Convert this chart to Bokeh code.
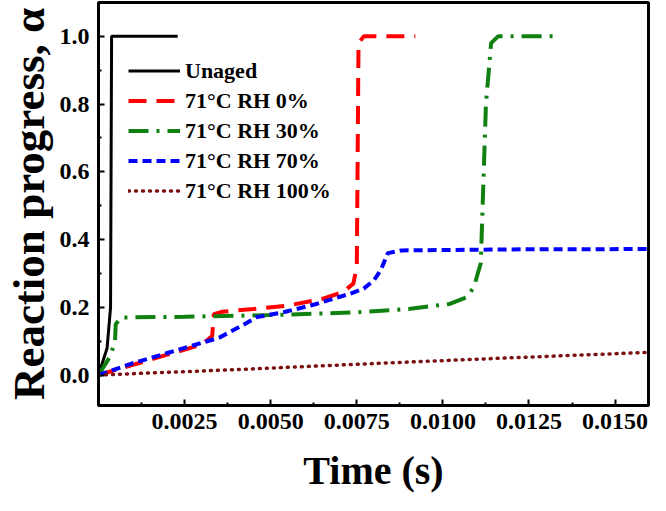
from bokeh.plotting import figure
from bokeh.models import FixedTicker, Range1d, Legend, LegendItem
from bokeh.embed import file_html
from bokeh.resources import INLINE

# ---- data ----
t_unaged = [0.0, 0.00025, 0.00035, 0.00038, 0.0023]
a_unaged = [0.0, 0.08, 0.20, 1.0, 1.0]

t_rh0 = [0.0, 0.0010, 0.0020, 0.0030, 0.0033, 0.00335, 0.0036, 0.0045, 0.0055, 0.0065, 0.0071, 0.0074, 0.0075, 0.00755, 0.0077, 0.0092]
a_rh0 = [0.0, 0.030, 0.060, 0.090, 0.115, 0.180, 0.187, 0.195, 0.205, 0.225, 0.245, 0.27, 0.32, 0.98, 1.0, 1.0]

t_rh30 = [0.0, 0.00034, 0.00048, 0.00050, 0.00065, 0.0025, 0.0050, 0.0075, 0.0090, 0.0102, 0.0107, 0.0109, 0.0111, 0.01125, 0.0114, 0.0116, 0.0133]
a_rh30 = [0.0, 0.055, 0.10, 0.15, 0.170, 0.172, 0.177, 0.185, 0.195, 0.210, 0.230, 0.26, 0.33, 0.80, 0.98, 1.0, 1.0]

t_rh70 = [0.0, 0.0010, 0.0020, 0.0030, 0.0035, 0.0042, 0.0046, 0.0054, 0.0063, 0.0073, 0.0077, 0.0080, 0.0082, 0.0084, 0.0088, 0.0120, 0.0160]
a_rh70 = [0.0, 0.035, 0.065, 0.095, 0.110, 0.148, 0.171, 0.186, 0.209, 0.240, 0.255, 0.28, 0.31, 0.36, 0.368, 0.371, 0.372]

t_rh100 = [0.0, 0.004, 0.008, 0.012, 0.016]
a_rh100 = [0.0, 0.016, 0.034, 0.051, 0.067]

x_ticks = [0.0025, 0.0050, 0.0075, 0.0100, 0.0125, 0.0150]
x_minor = [0.00125, 0.00375, 0.00625, 0.00875, 0.01125, 0.01375]
y_ticks = [0.0, 0.2, 0.4, 0.6, 0.8, 1.0]
y_minor = [0.1, 0.3, 0.5, 0.7, 0.9]

labels = ["Unaged", "71°C RH 0%", "71°C RH 30%", "71°C RH 70%", "71°C RH 100%"]

FONT = "Liberation Serif"

p = figure(width=650, height=495, output_backend="svg", toolbar_location=None,
           x_range=Range1d(0.0, 0.01597), y_range=Range1d(-0.09, 1.1),
           min_border_left=98, min_border_right=2, min_border_top=2, min_border_bottom=85)
p.grid.visible = False
p.outline_line_color = "black"
p.outline_line_width = 3
p.background_fill_color = "white"
p.border_fill_color = "white"

r_unaged = p.line(t_unaged, a_unaged, line_color="black", line_width=3)
r_rh0 = p.line(t_rh0, a_rh0, line_color="#ff0000", line_width=4, line_dash="18 10")
r_rh30 = p.line(t_rh30, a_rh30, line_color="#108010", line_width=4, line_dash="20 8 3 8")
r_rh70 = p.line(t_rh70, a_rh70, line_color="#0000ff", line_width=4, line_dash="9 5")
r_rh100 = p.line(t_rh100, a_rh100, line_color="#7a1010", line_width=3.5, line_dash="1 6", line_cap="round")

for ax in (p.xaxis[0], p.yaxis[0]):
    ax.axis_line_width = 3
    ax.major_tick_in = 6
    ax.major_tick_out = 0
    ax.minor_tick_in = 3
    ax.minor_tick_out = 0
    ax.major_tick_line_width = 2
    ax.minor_tick_line_width = 2
    ax.major_label_text_font = FONT
    ax.major_label_text_font_style = "bold"
    ax.major_label_text_font_size = "24px"
    ax.major_label_text_color = "black"
    ax.axis_label_text_font = FONT
    ax.axis_label_text_font_style = "bold"
    ax.axis_label_text_color = "black"

p.xaxis[0].ticker = FixedTicker(ticks=x_ticks, minor_ticks=x_minor)
p.yaxis[0].ticker = FixedTicker(ticks=y_ticks, minor_ticks=y_minor)
p.xaxis[0].major_label_overrides = {v: f"{v:.4f}" for v in x_ticks}
p.yaxis[0].major_label_overrides = {v: f"{v:.1f}" for v in y_ticks}
p.xaxis[0].major_label_standoff = 8
p.yaxis[0].major_label_standoff = 9
p.xaxis[0].axis_label = "Time (s)"
p.yaxis[0].axis_label = "Reaction progress, α"
p.xaxis[0].axis_label_text_font_size = "40px"
p.yaxis[0].axis_label_text_font_size = "45px"
p.xaxis[0].axis_label_standoff = 16
p.yaxis[0].axis_label_standoff = 3

legend = Legend(items=[LegendItem(label=l, renderers=[r]) for l, r in
                       zip(labels, [r_unaged, r_rh0, r_rh30, r_rh70, r_rh100])],
                location=(30, 201))
legend.border_line_color = None
legend.background_fill_alpha = 0
legend.label_text_font = FONT
legend.label_text_font_style = "bold"
legend.label_text_font_size = "22px"
legend.label_text_color = "black"
legend.glyph_width = 52
legend.glyph_height = 27
legend.label_height = 27
legend.spacing = 3
legend.padding = 0
legend.margin = 0
legend.label_standoff = 5
p.add_layout(legend, "center")

open("out.html", "w").write(file_html(p, INLINE))
